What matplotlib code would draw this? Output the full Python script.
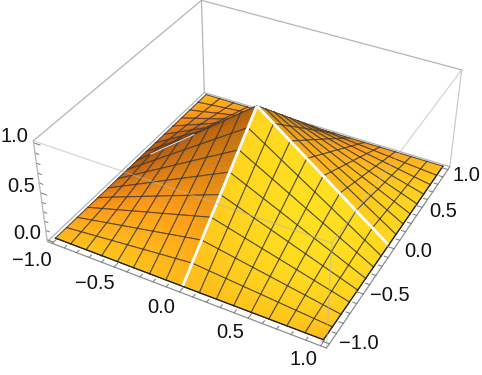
import numpy as np
import matplotlib
matplotlib.use("Agg")
import matplotlib.pyplot as plt
from mpl_toolkits.mplot3d import proj3d

plt.rcParams['font.family'] = ['Liberation Sans', 'DejaVu Sans']

# Surface heights on the mesh, one quadrant from the edge (first) to the centre (last)
heights_quadrant = [
    [0.000, 0.000, 0.000, 0.000, 0.000, 0.000, 0.000, 0.000, 0.000],
    [0.000, 0.016, 0.031, 0.047, 0.063, 0.078, 0.094, 0.109, 0.125],
    [0.000, 0.031, 0.063, 0.094, 0.125, 0.156, 0.188, 0.219, 0.250],
    [0.000, 0.047, 0.094, 0.141, 0.188, 0.234, 0.281, 0.328, 0.375],
    [0.000, 0.063, 0.125, 0.188, 0.250, 0.313, 0.375, 0.438, 0.500],
    [0.000, 0.078, 0.156, 0.234, 0.313, 0.391, 0.469, 0.547, 0.625],
    [0.000, 0.094, 0.188, 0.281, 0.375, 0.469, 0.563, 0.656, 0.750],
    [0.000, 0.109, 0.219, 0.328, 0.438, 0.547, 0.656, 0.766, 0.875],
    [0.000, 0.125, 0.250, 0.375, 0.500, 0.625, 0.750, 0.875, 1.000],
]
mesh_positions = [-1.0, -0.875, -0.75, -0.625, -0.5, -0.375, -0.25, -0.125, 0.0,
                  0.125, 0.25, 0.375, 0.5, 0.625, 0.75, 0.875, 1.0]
major_ticks = [-1.0, -0.5, 0.0, 0.5, 1.0]
tick_labels = ['\u22121.0', '\u22120.5', '0.0', '0.5', '1.0']
z_major_ticks = [0.0, 0.5, 1.0]
z_tick_labels = ['0.0', '0.5', '1.0']

q = np.array(heights_quadrant)
half = np.hstack([q, q[:, -2::-1]])
Z = np.vstack([half, half[-2::-1, :]])
xs = np.array(mesh_positions)

XL, ZL = (-1.04, 1.04), (-0.02, 1.02)
ELEV, AZIM, FOCAL, ZOOM = 36.2, -61.6, 0.43, 0.87
BOX = np.array([1, 1, 0.4])

fig = plt.figure(figsize=(4.82, 3.75), dpi=100)
ax = fig.add_axes([-0.001, -0.099, 1.04, 1.337], projection='3d')
ax.computed_zorder = False
ax.set_axis_off()
ax.view_init(elev=ELEV, azim=AZIM)
ax.set_proj_type('persp', focal_length=FOCAL)
ax.set_box_aspect(BOX, zoom=ZOOM)

sx = BOX[0] / (XL[1] - XL[0])
sz = BOX[2] / (ZL[1] - ZL[0])


def shade(nx, ny, nz):
    n = np.sqrt(nx**2 + ny**2 + nz**2)
    nx, ny, nz = nx / n, ny / n, nz / n
    g = 185 * nz + 108 * nx - 62 * ny
    r = 298 * nz + 105 * nx - 70 * ny
    g = np.clip(g, 62, 255)
    r = np.clip(r, 112, 255)
    b = np.clip(g * 0.13, 0, 255)
    return np.stack([r, g, b], -1) / 255


el, az = np.radians(ELEV), np.radians(AZIM)
ps = np.array([np.cos(el) * np.cos(az), np.cos(el) * np.sin(az), np.sin(el)])
eye = ps * 3.38

n = len(xs)
cells = []
for j in range(n - 1):
    for i in range(n - 1):
        c = np.array([(xs[i] + xs[i + 1]) / 2 * sx, (xs[j] + xs[j + 1]) / 2 * sx,
                      (Z[j:j + 2, i:i + 2].mean() - 0.5) * sz])
        cells.append((np.linalg.norm(c - eye), i, j))
cells.sort(reverse=True)

SUB = 4
t = np.linspace(0, 1, SUB + 1)


def vertex_colors(i, j):
    out = np.zeros((2, 2, 3))
    for a, jj in enumerate((j, j + 1)):
        for b, ii in enumerate((i, i + 1)):
            dzdx = (Z[jj, i + 1] - Z[jj, i]) / (xs[i + 1] - xs[i])
            dzdy = (Z[j + 1, ii] - Z[j, ii]) / (xs[j + 1] - xs[j])
            out[a, b] = shade(-dzdx * sz / sx, -dzdy * sz / sx, np.array(1.0))
    return out


def box_line(a, b, c, zorder, color='#b5b5b5', lw=0.9, alpha=1.0):
    ax.plot(a, b, c, color=color, lw=lw, alpha=alpha, zorder=zorder, solid_capstyle='round')


x0, x1 = XL
z0, z1 = ZL
box_line([x0, x0], [x1, x1], [z0, z1], 0)
box_line([x0, x1], [x1, x1], [z0, z0], 0)
box_line([x0, x0], [x0, x1], [z0, z0], 0)
box_line([x0, x1], [x1, x1], [z1, z1], 0)
box_line([x0, x0], [x0, x1], [z1, z1], 0)
box_line([x1, x1], [x0, x1], [z0, z0], 1, color='#8f8f8f')
box_line([x0, x1], [x0, x0], [z0, z0], 1, color='#8f8f8f')

zo = 2
MESH = '#3a3a3a'
for _, i, j in cells:
    corner = vertex_colors(i, j)
    u, v = np.meshgrid(t, t)
    px = xs[i] + (xs[i + 1] - xs[i]) * u
    py = xs[j] + (xs[j + 1] - xs[j]) * v
    pz = (Z[j, i] * (1 - u) * (1 - v) + Z[j, i + 1] * u * (1 - v)
          + Z[j + 1, i] * (1 - u) * v + Z[j + 1, i + 1] * u * v)
    cu = (u[:-1, :-1] + u[1:, 1:]) / 2
    cv = (v[:-1, :-1] + v[1:, 1:]) / 2
    fc = (corner[0, 0] * ((1 - cu) * (1 - cv))[..., None] + corner[0, 1] * (cu * (1 - cv))[..., None]
          + corner[1, 0] * ((1 - cu) * cv)[..., None] + corner[1, 1] * (cu * cv)[..., None])
    ax.plot_surface(px, py, pz, facecolors=fc, shade=False, linewidth=0.35,
                    rstride=1, cstride=1, zorder=zo)
    zo += 1
    for (ia, ja, ib, jb) in ((i, j, i + 1, j), (i, j + 1, i + 1, j + 1), (i, j, i, j + 1), (i + 1, j, i + 1, j + 1)):
        ax.plot([xs[ia], xs[ib]], [xs[ja], xs[jb]], [Z[ja, ia], Z[jb, ib]],
                color=MESH, lw=0.75, alpha=0.85, zorder=zo)
        zo += 1
    zo += 1

top = zo + 1000
# visible stretch of the seam on the far-left ridge
ax.plot(xs[1:5], xs[8] * np.ones(4), Z[8, 1:5], color='white', lw=0.7, alpha=0.9, zorder=top - 1)
ax.plot(xs[8] * np.ones(9), xs[:9], Z[:9, 8], color='white', lw=2.0, zorder=top, solid_capstyle='butt')
ax.plot(xs[8:], xs[8] * np.ones(9), Z[8, 8:], color='white', lw=2.0, zorder=top, solid_capstyle='butt')
ax.plot(xs, xs[0] * np.ones(n), Z[0, :], color='#222222', lw=0.9, zorder=top)
ax.plot(xs[-1] * np.ones(n), xs, Z[:, -1], color='#222222', lw=0.9, zorder=top)

box_line([x1, x1], [x0, x0], [z0, z1], top, alpha=0.55)
box_line([x0, x1], [x0, x0], [z1, z1], top, alpha=0.55)
box_line([x1, x1], [x0, x1], [z1, z1], top, alpha=0.55)
box_line([x0, x0], [x0, x0], [z0, z1], top + 1)
box_line([x1, x1], [x1, x1], [z0, z1], top, alpha=0.7)

TICK = '#777777'
for v in np.arange(-10, 11) / 10:
    maj = abs(v * 2 - round(v * 2)) < 1e-6
    L = 0.05 if maj else 0.028
    ax.plot([v, v], [x0, x0 + L], [z0, z0], color=TICK, lw=0.7, zorder=top)
    ax.plot([x1, x1 - L], [v, v], [z0, z0], color=TICK, lw=0.7, zorder=top)
for v in np.arange(0, 11) / 10:
    maj = abs(v * 2 - round(v * 2)) < 1e-6
    L = 0.05 if maj else 0.028
    ax.plot([x0, x0 + L], [x0, x0], [v, v], color=TICK, lw=0.7, zorder=top)

ax.set_xlim(x0, x1, view_margin=0)
ax.set_ylim(x0, x1, view_margin=0)
ax.set_zlim(z0, z1, view_margin=0)

FS = 14.5
M = ax.get_proj()


def label(x, y, z, s, dx, dy):
    px2, py2, _ = proj3d.proj_transform(x, y, z, M)
    ax.annotate(s, xy=(px2, py2), xycoords='data', xytext=(dx, dy), textcoords='offset pixels',
                fontsize=FS, ha='center', va='center', color='#111111', zorder=top + 2,
                annotation_clip=False)


for v, s in zip(major_ticks, tick_labels):
    label(v, x0, z0, s, -18.5 + 1.5 * v, -(15.5 - 1.5 * v))
    label(x1, v, z0, s, 24 - 5.5 * v, -(3 + 3 * v))
for v, s in zip(z_major_ticks, z_tick_labels):
    label(x0, x0, v, s, -19.5, 6)

fig.savefig('out.png', dpi=100)
